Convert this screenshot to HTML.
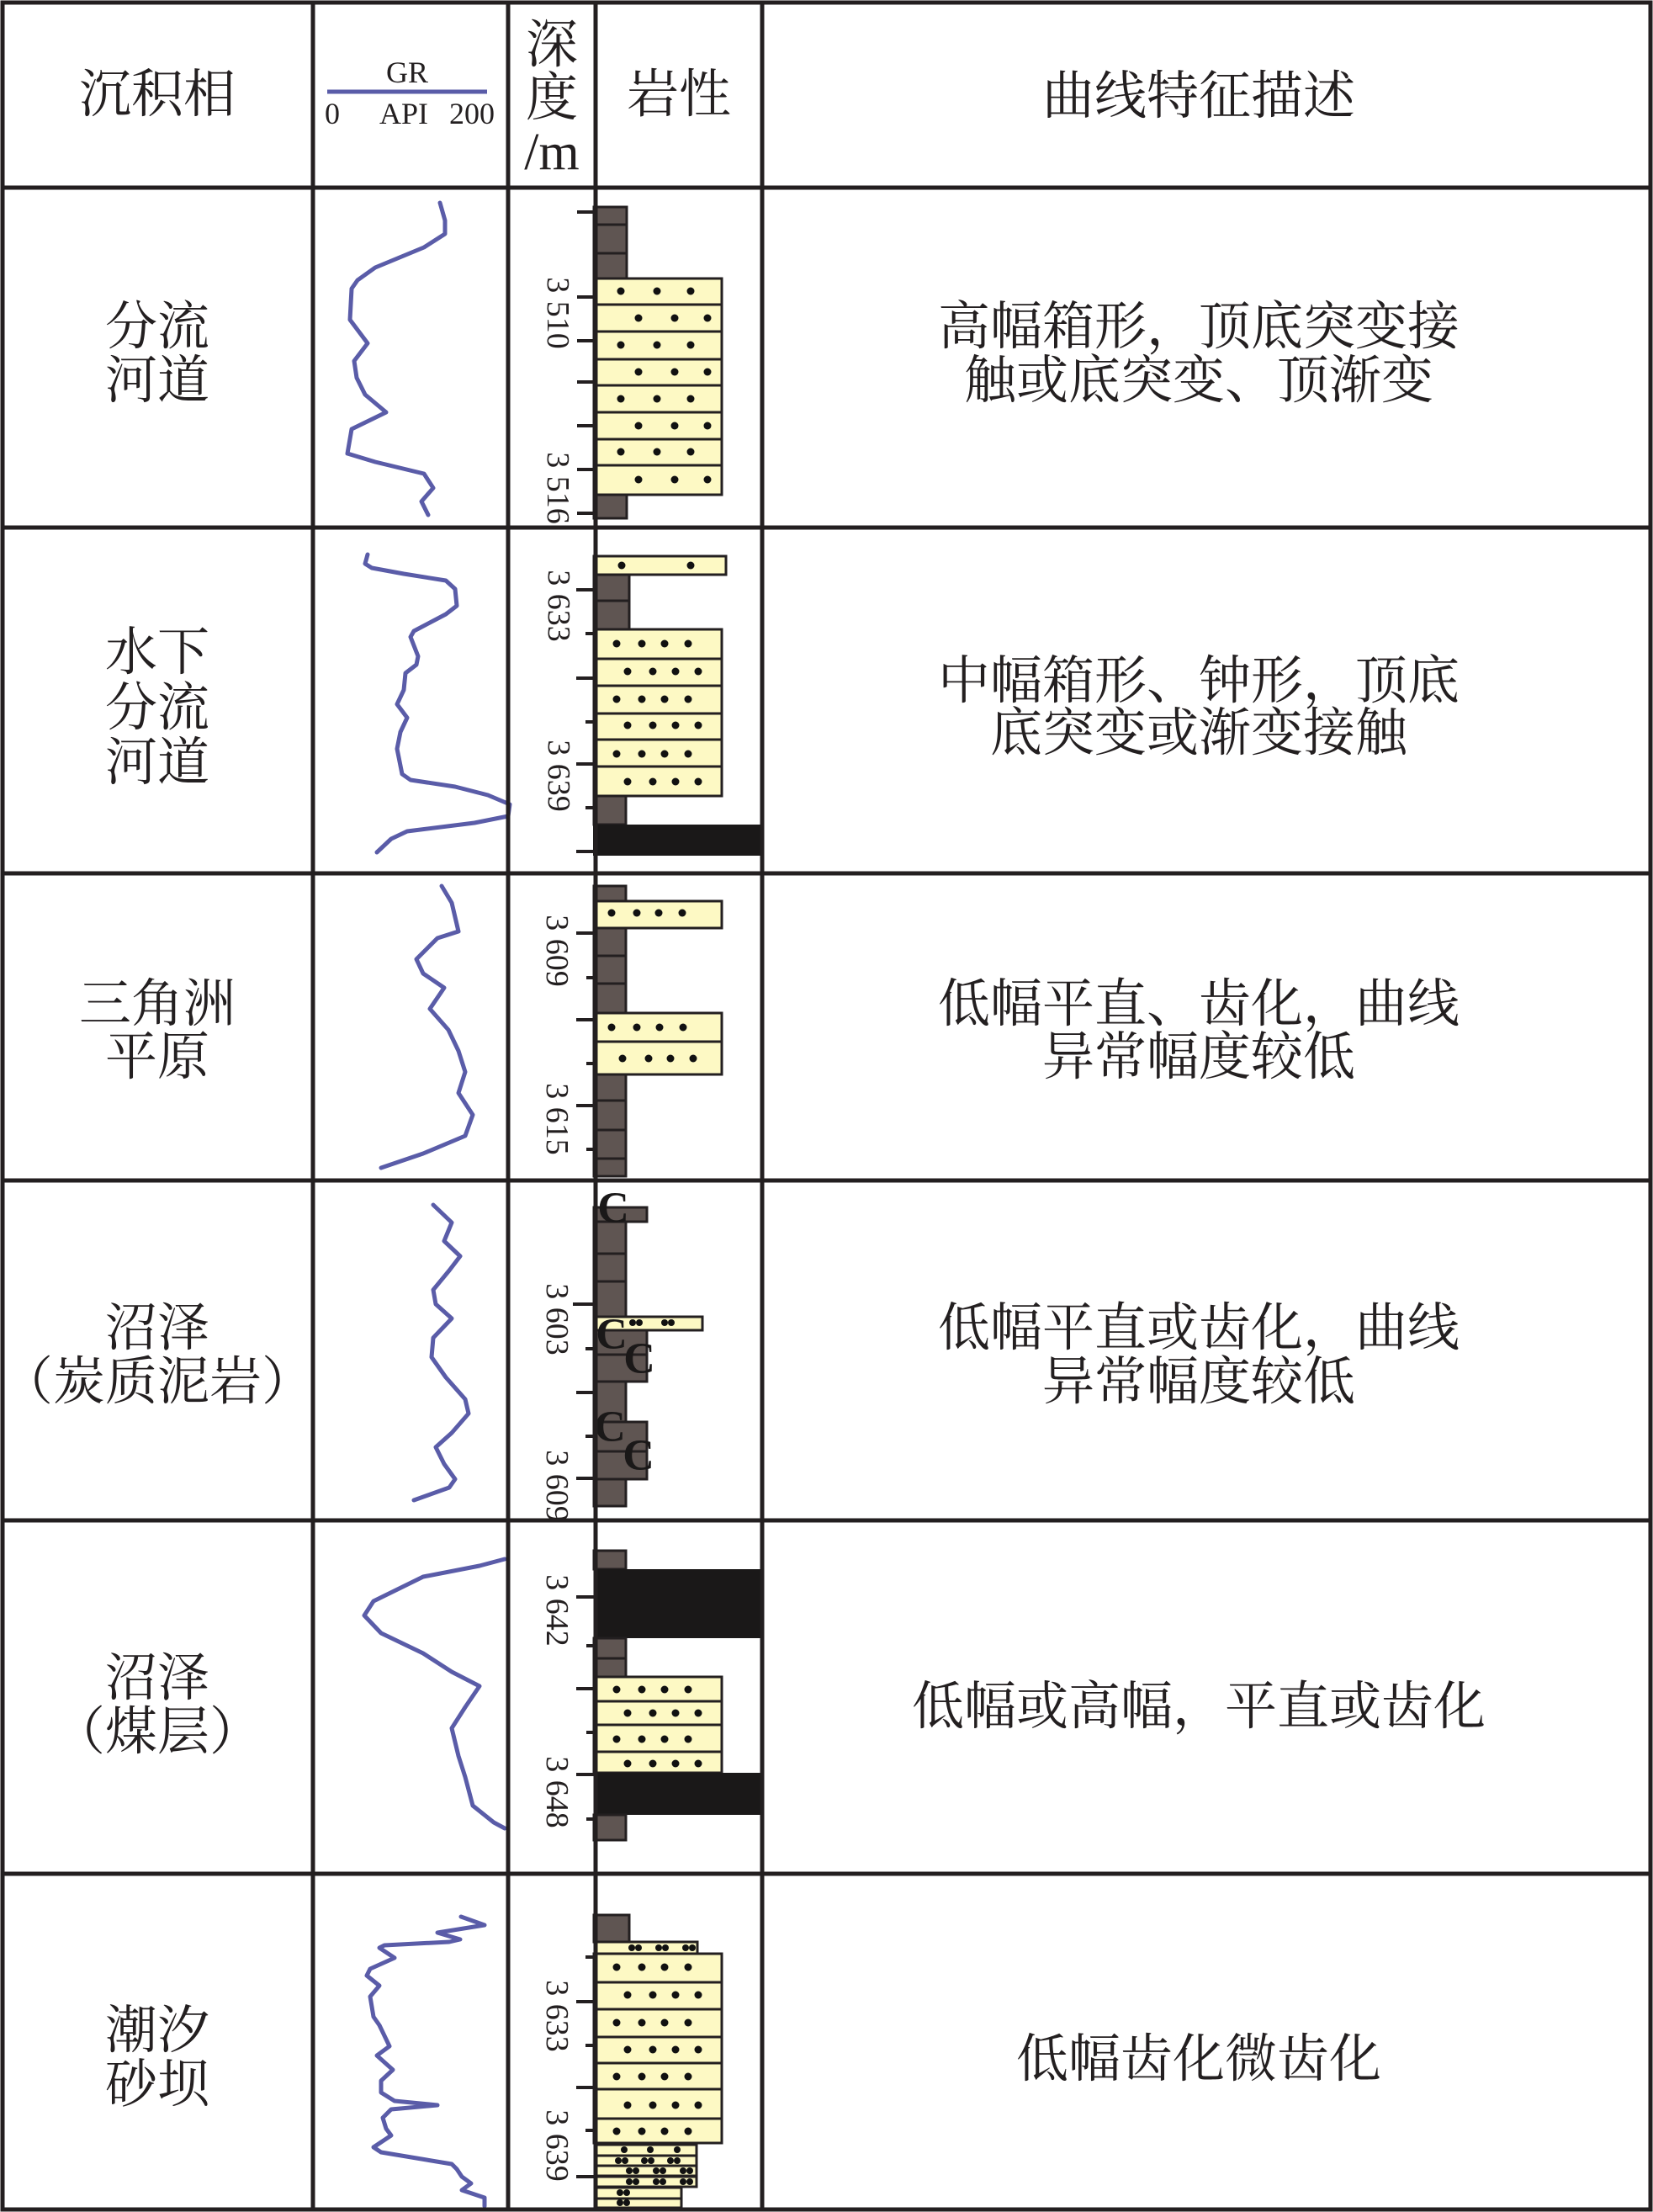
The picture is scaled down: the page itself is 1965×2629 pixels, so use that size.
<!DOCTYPE html>
<html><head><meta charset="utf-8"><style>
html,body{margin:0;padding:0;background:#fff;}
svg{display:block;}
.t{font-family:"Liberation Serif","Noto Serif CJK SC",serif;fill:#231f20;}
.cn{font-size:62px;text-anchor:middle;dominant-baseline:central;}
.lb{font-size:38px;text-anchor:middle;dominant-baseline:central;}
.sh{fill:#5f5552;stroke:#231f20;stroke-width:3;}
.sd{fill:#fdf9c4;stroke:#231f20;stroke-width:3;}
.cl{fill:#1a1818;}
.gr{fill:none;stroke:#5a5ca8;stroke-width:5;stroke-linejoin:round;stroke-linecap:round;}
.tk{stroke:#231f20;stroke-width:4;}
.cc{font-family:"Liberation Serif",serif;font-weight:bold;font-size:52px;fill:#1a1818;text-anchor:middle;dominant-baseline:central;}
</style></head><body>
<svg width="1965" height="2629" viewBox="0 0 1965 2629" xmlns="http://www.w3.org/2000/svg">
<defs>
<g id="dA"><circle cx="733" cy="0" r="4.5"/><circle cx="763" cy="0" r="4.5"/><circle cx="790" cy="0" r="4.5"/><circle cx="818" cy="0" r="4.5"/></g>
<g id="dB"><circle cx="746" cy="0" r="4.5"/><circle cx="776" cy="0" r="4.5"/><circle cx="803" cy="0" r="4.5"/><circle cx="830" cy="0" r="4.5"/></g>
<g id="d3A"><circle cx="738" cy="0" r="4.5"/><circle cx="781" cy="0" r="4.5"/><circle cx="821" cy="0" r="4.5"/></g>
<g id="d3B"><circle cx="759" cy="0" r="4.5"/><circle cx="802" cy="0" r="4.5"/><circle cx="841" cy="0" r="4.5"/></g>
</defs>
<rect width="1965" height="2629" fill="#fff"/>

<!-- HEADER -->
<text class="t cn" x="187" y="113">沉积相</text>
<text class="t" x="484" y="86" font-size="36" text-anchor="middle" dominant-baseline="central">GR</text>
<line x1="389" y1="109" x2="579" y2="109" stroke="#5a5ca8" stroke-width="5"/>
<text class="t" x="386" y="147" font-size="36">0</text>
<text class="t" x="480" y="147" font-size="36" text-anchor="middle">API</text>
<text class="t" x="588" y="147" font-size="36" text-anchor="end">200</text>
<text class="t cn" x="656" y="54" font-size="56">深</text>
<text class="t cn" x="656" y="117" font-size="56">度</text>
<text class="t cn" x="656" y="181" font-size="56">/m</text>
<text class="t cn" x="807" y="113">岩性</text>
<text class="t cn" x="1425" y="115">曲线特征描述</text>

<!-- ROW 1 -->
<text class="t cn" x="187" y="389">分流</text>
<text class="t cn" x="187" y="453">河道</text>
<text class="t cn" x="1425" y="389">高幅箱形，顶底突变接</text>
<text class="t cn" x="1425" y="453">触或底突变、顶渐变</text>
<polyline class="gr" points="523,241 529,262 529,278 504,294 446,318 425,333 418,343 416,380 437,408 421,429 424,449 434,469 459,490 418,510 413,539 446,549 504,563 515,580 501,596 509,612"/>
<rect class="sh" x="706" y="246" width="39" height="85"/>
<line x1="706" y1="267" x2="745" y2="267" stroke="#231f20" stroke-width="3"/>
<line x1="706" y1="301" x2="745" y2="301" stroke="#231f20" stroke-width="3"/>
<rect class="sd" x="706" y="331" width="152" height="257"/>
<g stroke="#231f20" stroke-width="3"><line x1="706" y1="362" x2="858" y2="362"/><line x1="706" y1="394" x2="858" y2="394"/><line x1="706" y1="427" x2="858" y2="427"/><line x1="706" y1="458" x2="858" y2="458"/><line x1="706" y1="490" x2="858" y2="490"/><line x1="706" y1="522" x2="858" y2="522"/><line x1="706" y1="553" x2="858" y2="553"/></g>
<g fill="#111"><use href="#d3A" y="346"/><use href="#d3B" y="378"/><use href="#d3A" y="410"/><use href="#d3B" y="442"/><use href="#d3A" y="474"/><use href="#d3B" y="506"/><use href="#d3A" y="537"/><use href="#d3B" y="570"/></g>
<rect class="sh" x="706" y="588" width="39" height="28"/>
<g class="tk"><line x1="686" y1="252" x2="708" y2="252"/><line x1="686" y1="353" x2="708" y2="353"/><line x1="686" y1="405" x2="708" y2="405"/><line x1="686" y1="454" x2="708" y2="454"/><line x1="686" y1="506" x2="708" y2="506"/><line x1="686" y1="558" x2="708" y2="558"/><line x1="686" y1="610" x2="708" y2="610"/></g>
<text class="t lb" transform="translate(663,372) rotate(90)">3 510</text>
<text class="t lb" transform="translate(663,580) rotate(90)">3 516</text>

<!-- ROW 2 -->
<text class="t cn" x="187" y="776">水下</text>
<text class="t cn" x="187" y="842">分流</text>
<text class="t cn" x="187" y="907">河道</text>
<text class="t cn" x="1425" y="810">中幅箱形、钟形，顶底</text>
<text class="t cn" x="1425" y="872">底突变或渐变接触</text>
<polyline class="gr" points="437,659 434,670 442,675 480,682 530,690 541,700 543,720 530,730 492,750 488,757 497,780 495,790 482,800 480,820 472,837 484,853 476,870 472,890 478,920 488,927 541,935 580,945 606,956 604,970 564,978 484,988 465,997 448,1013"/>
<rect class="sd" x="706" y="661" width="157" height="22"/>
<g fill="#111"><circle cx="739" cy="672" r="4.5"/><circle cx="821" cy="672" r="4.5"/></g>
<rect class="sh" x="706" y="683" width="42" height="65"/>
<line x1="706" y1="714" x2="748" y2="714" stroke="#231f20" stroke-width="3"/>
<rect class="sd" x="706" y="748" width="152" height="198"/>
<g stroke="#231f20" stroke-width="3"><line x1="706" y1="783" x2="858" y2="783"/><line x1="706" y1="815" x2="858" y2="815"/><line x1="706" y1="848" x2="858" y2="848"/><line x1="706" y1="879" x2="858" y2="879"/><line x1="706" y1="911" x2="858" y2="911"/></g>
<g fill="#111"><use href="#dA" y="765"/><use href="#dB" y="798"/><use href="#dA" y="831"/><use href="#dB" y="862"/><use href="#dA" y="896"/><use href="#dB" y="929"/></g>
<rect class="sh" x="706" y="946" width="38" height="34"/>
<rect class="cl" x="705" y="980" width="200" height="37"/>
<g class="tk"><line x1="685" y1="701" x2="708" y2="701"/><line x1="696" y1="753" x2="708" y2="753"/><line x1="685" y1="806" x2="708" y2="806"/><line x1="696" y1="858" x2="708" y2="858"/><line x1="685" y1="908" x2="708" y2="908"/><line x1="696" y1="960" x2="708" y2="960"/><line x1="685" y1="1012" x2="708" y2="1012"/></g>
<text class="t lb" transform="translate(664,720) rotate(90)">3 633</text>
<text class="t lb" transform="translate(664,922) rotate(90)">3 639</text>

<!-- ROW 3 -->
<text class="t cn" x="187" y="1194">三角洲</text>
<text class="t cn" x="187" y="1257">平原</text>
<text class="t cn" x="1425" y="1194">低幅平直、齿化，曲线</text>
<text class="t cn" x="1425" y="1257">异常幅度较低</text>
<polyline class="gr" points="525,1053 537,1073 545,1107 520,1115 495,1140 503,1157 528,1174 511,1199 533,1224 545,1249 553,1274 545,1299 562,1325 553,1350 503,1371 453,1388"/>
<rect class="sh" x="706" y="1053" width="38" height="18"/>
<rect class="sd" x="706" y="1071" width="152" height="32"/>
<g fill="#111"><circle cx="727" cy="1085" r="4.5"/><circle cx="757" cy="1085" r="4.5"/><circle cx="783" cy="1085" r="4.5"/><circle cx="811" cy="1085" r="4.5"/></g>
<rect class="sh" x="706" y="1103" width="38" height="101"/>
<g stroke="#231f20" stroke-width="3"><line x1="706" y1="1136" x2="744" y2="1136"/><line x1="706" y1="1169" x2="744" y2="1169"/></g>
<rect class="sd" x="706" y="1204" width="152" height="73"/>
<line x1="706" y1="1238" x2="858" y2="1238" stroke="#231f20" stroke-width="3"/>
<g fill="#111"><circle cx="727" cy="1221" r="4.5"/><circle cx="757" cy="1221" r="4.5"/><circle cx="784" cy="1221" r="4.5"/><circle cx="812" cy="1221" r="4.5"/><circle cx="740" cy="1258" r="4.5"/><circle cx="771" cy="1258" r="4.5"/><circle cx="797" cy="1258" r="4.5"/><circle cx="824" cy="1258" r="4.5"/></g>
<rect class="sh" x="706" y="1277" width="38" height="121"/>
<g stroke="#231f20" stroke-width="3"><line x1="706" y1="1308" x2="744" y2="1308"/><line x1="706" y1="1343" x2="744" y2="1343"/><line x1="706" y1="1377" x2="744" y2="1377"/></g>
<g class="tk"><line x1="685" y1="1109" x2="708" y2="1109"/><line x1="697" y1="1162" x2="708" y2="1162"/><line x1="685" y1="1212" x2="708" y2="1212"/><line x1="697" y1="1264" x2="708" y2="1264"/><line x1="685" y1="1314" x2="708" y2="1314"/><line x1="697" y1="1366" x2="708" y2="1366"/></g>
<text class="t lb" transform="translate(662,1130) rotate(90)">3 609</text>
<text class="t lb" transform="translate(662,1330) rotate(90)">3 615</text>

<!-- ROW 4 -->
<text class="t cn" x="187" y="1579">沼泽</text>
<text class="t cn" x="187" y="1643">（炭质泥岩）</text>
<text class="t cn" x="1425" y="1579">低幅平直或齿化，曲线</text>
<text class="t cn" x="1425" y="1643">异常幅度较低</text>
<polyline class="gr" points="515,1432 537,1453 528,1475 547,1493 534,1510 515,1533 518,1550 537,1567 515,1590 513,1613 530,1637 553,1663 557,1680 537,1703 518,1720 528,1740 541,1758 534,1768 492,1783"/>
<rect class="sh" x="706" y="1435" width="63" height="17"/>
<rect class="sh" x="706" y="1452" width="38" height="338"/>
<g stroke="#231f20" stroke-width="3"><line x1="706" y1="1490" x2="744" y2="1490"/><line x1="706" y1="1523" x2="744" y2="1523"/></g>
<rect class="sh" x="706" y="1581" width="63" height="61"/>
<line x1="706" y1="1610" x2="769" y2="1610" stroke="#231f20" stroke-width="3"/>
<rect class="sh" x="706" y="1690" width="63" height="68"/>
<line x1="706" y1="1725" x2="769" y2="1725" stroke="#231f20" stroke-width="3"/>
<rect class="sd" x="708" y="1565" width="127" height="16"/>
<g fill="#111"><circle cx="752" cy="1572" r="4"/><circle cx="760" cy="1572" r="4"/><circle cx="790" cy="1572" r="4"/><circle cx="798" cy="1572" r="4"/></g>
<text class="cc" x="729" y="1436">C</text>
<text class="cc" x="727" y="1586">C</text>
<text class="cc" x="760" y="1615">C</text>
<text class="cc" x="725" y="1696">C</text>
<text class="cc" x="759" y="1730">C</text>
<g class="tk"><line x1="681" y1="1550" x2="706" y2="1550"/><line x1="696" y1="1603" x2="706" y2="1603"/><line x1="685" y1="1655" x2="706" y2="1655"/><line x1="696" y1="1707" x2="706" y2="1707"/><line x1="685" y1="1757" x2="706" y2="1757"/></g>
<text class="t lb" transform="translate(662,1568) rotate(90)">3 603</text>
<text class="t lb" transform="translate(662,1766) rotate(90)">3 609</text>

<!-- ROW 5 -->
<text class="t cn" x="187" y="1995">沼泽</text>
<text class="t cn" x="187" y="2059">（煤层）</text>
<text class="t cn" x="1425" y="2029">低幅或高幅，平直或齿化</text>
<polyline class="gr" points="600,1853 570,1861 503,1874 444,1903 433,1920 453,1941 503,1965 537,1987 570,2004 553,2029 537,2054 545,2087 553,2112 562,2146 587,2166 600,2173"/>
<rect class="sh" x="706" y="1843" width="38" height="22"/>
<rect class="cl" x="706" y="1865" width="199" height="82"/>
<rect class="sh" x="706" y="1947" width="38" height="46"/>
<line x1="706" y1="1971" x2="744" y2="1971" stroke="#231f20" stroke-width="3"/>
<rect class="sd" x="706" y="1993" width="152" height="114"/>
<g stroke="#231f20" stroke-width="3"><line x1="706" y1="2022" x2="858" y2="2022"/><line x1="706" y1="2050" x2="858" y2="2050"/><line x1="706" y1="2082" x2="858" y2="2082"/></g>
<g fill="#111"><use href="#dA" y="2008"/><use href="#dB" y="2036"/><use href="#dA" y="2067"/><use href="#dB" y="2096"/></g>
<rect class="cl" x="706" y="2107" width="199" height="50"/>
<rect class="sh" x="706" y="2157" width="38" height="30"/>
<g class="tk"><line x1="685" y1="1898" x2="706" y2="1898"/><line x1="697" y1="1956" x2="706" y2="1956"/><line x1="685" y1="2007" x2="706" y2="2007"/><line x1="697" y1="2059" x2="706" y2="2059"/><line x1="685" y1="2109" x2="706" y2="2109"/><line x1="697" y1="2162" x2="706" y2="2162"/></g>
<text class="t lb" transform="translate(662,1914) rotate(90)">3 642</text>
<text class="t lb" transform="translate(662,2130) rotate(90)">3 648</text>

<!-- ROW 6 -->
<text class="t cn" x="187" y="2414">潮汐</text>
<text class="t cn" x="187" y="2478">砂坝</text>
<text class="t cn" x="1425" y="2448">低幅齿化微齿化</text>
<polyline class="gr" points="548,2278 576,2288 520,2297 547,2305 534,2308 457,2312 451,2315 469,2327 440,2340 436,2348 451,2360 440,2373 444,2397 451,2407 463,2432 448,2443 467,2460 453,2473 453,2487 469,2497 520,2502 465,2507 455,2517 459,2530 465,2538 444,2552 453,2558 537,2572 543,2578 549,2587 560,2595 549,2603 576,2612 576,2622"/>
<rect class="sh" x="706" y="2276" width="42" height="32"/>
<rect class="sd" x="708" y="2308" width="121" height="14"/>
<g fill="#111"><circle cx="751" cy="2315" r="4"/><circle cx="759" cy="2315" r="4"/><circle cx="783" cy="2315" r="4"/><circle cx="791" cy="2315" r="4"/><circle cx="815" cy="2315" r="4"/><circle cx="823" cy="2315" r="4"/></g>
<rect class="sd" x="706" y="2322" width="152" height="225"/>
<g stroke="#231f20" stroke-width="3"><line x1="706" y1="2356" x2="858" y2="2356"/><line x1="706" y1="2388" x2="858" y2="2388"/><line x1="706" y1="2421" x2="858" y2="2421"/><line x1="706" y1="2452" x2="858" y2="2452"/><line x1="706" y1="2483" x2="858" y2="2483"/><line x1="706" y1="2518" x2="858" y2="2518"/></g>
<g fill="#111"><use href="#dA" y="2338"/><use href="#dB" y="2371"/><use href="#dA" y="2404"/><use href="#dB" y="2436"/><use href="#dA" y="2468"/><use href="#dB" y="2502"/><use href="#dA" y="2533"/></g>
<g class="sd"><rect x="708" y="2549" width="120" height="13"/><rect x="708" y="2562" width="120" height="12"/><rect x="708" y="2574" width="120" height="12"/><rect x="708" y="2587" width="120" height="12"/><rect x="708" y="2600" width="102" height="13"/><rect x="708" y="2613" width="102" height="11"/></g>
<g fill="#111">
<circle cx="742" cy="2555" r="4"/><circle cx="773" cy="2555" r="4"/><circle cx="805" cy="2555" r="4"/>
<circle cx="735" cy="2568" r="4"/><circle cx="743" cy="2568" r="4"/><circle cx="766" cy="2568" r="4"/><circle cx="774" cy="2568" r="4"/><circle cx="797" cy="2568" r="4"/><circle cx="805" cy="2568" r="4"/>
<circle cx="748" cy="2580" r="4"/><circle cx="756" cy="2580" r="4"/><circle cx="780" cy="2580" r="4"/><circle cx="788" cy="2580" r="4"/><circle cx="812" cy="2580" r="4"/><circle cx="820" cy="2580" r="4"/>
<circle cx="748" cy="2593" r="4"/><circle cx="756" cy="2593" r="4"/><circle cx="780" cy="2593" r="4"/><circle cx="788" cy="2593" r="4"/><circle cx="812" cy="2593" r="4"/><circle cx="820" cy="2593" r="4"/>
<circle cx="737" cy="2606" r="4"/><circle cx="745" cy="2606" r="4"/>
<circle cx="737" cy="2618" r="4"/><circle cx="745" cy="2618" r="4"/>
</g>
<g class="tk"><line x1="696" y1="2326" x2="706" y2="2326"/><line x1="685" y1="2379" x2="706" y2="2379"/><line x1="696" y1="2431" x2="706" y2="2431"/><line x1="685" y1="2481" x2="706" y2="2481"/><line x1="696" y1="2532" x2="706" y2="2532"/><line x1="685" y1="2587" x2="706" y2="2587"/></g>
<text class="t lb" transform="translate(662,2396) rotate(90)">3 633</text>
<text class="t lb" transform="translate(662,2550) rotate(90)">3 639</text>

<!-- GRID -->
<g stroke="#231f20" stroke-width="5" fill="none">
<rect x="3" y="3" width="1959" height="2623"/>
<line x1="372" y1="3" x2="372" y2="2626"/>
<line x1="604" y1="3" x2="604" y2="2626"/>
<line x1="708" y1="3" x2="708" y2="2626"/>
<line x1="906" y1="3" x2="906" y2="2626"/>
<line x1="3" y1="223" x2="1962" y2="223"/>
<line x1="3" y1="627" x2="1962" y2="627"/>
<line x1="3" y1="1038" x2="1962" y2="1038"/>
<line x1="3" y1="1403" x2="1962" y2="1403"/>
<line x1="3" y1="1807" x2="1962" y2="1807"/>
<line x1="3" y1="2227" x2="1962" y2="2227"/>
</g>
</svg>
</body></html>
